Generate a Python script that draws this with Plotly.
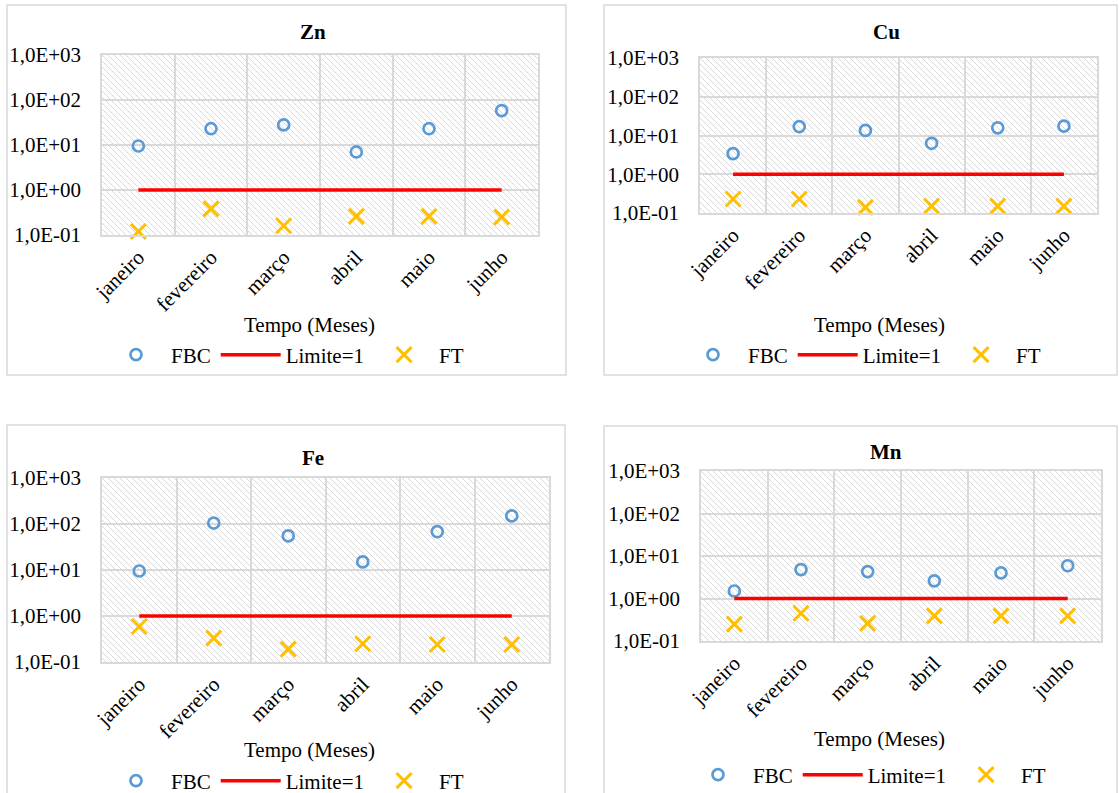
import base64
import plotly.graph_objects as go

W, H = 1119, 793

MONTHS = ["janeiro", "fevereiro", "março", "abril", "maio", "junho"]
LIMITE = [1, 1, 1, 1, 1, 1]

ZN_FBC = [9.5, 23, 28, 7.0, 23, 58]
ZN_FT = [0.12, 0.38, 0.16, 0.26, 0.26, 0.25]

CU_FBC = [3.4, 17, 13.5, 6.3, 15.8, 17.4]
CU_FT = [0.23, 0.23, 0.14, 0.15, 0.15, 0.15]

FE_FBC = [9.5, 105, 55, 15, 68, 150]
FE_FT = [0.59, 0.33, 0.19, 0.25, 0.24, 0.24]

MN_FBC = [1.5, 4.8, 4.3, 2.6, 4.0, 5.9]
MN_FT = [0.25, 0.45, 0.26, 0.39, 0.39, 0.39]

Y_TICKS = [0.1, 1, 10, 100, 1000]
Y_TICKTEXT = ["1,0E-01", "1,0E+00", "1,0E+01", "1,0E+02", "1,0E+03"]

FONT = "Liberation Serif, Times New Roman, serif"
FS = 21
GRID = "#d9d9d9"
BLUE = "#5b9bd5"
RED = "#ff0000"
GOLD = "#ffc000"
ITEMW = 60

# layout of each panel in pixels: plot area (x0, x1, y0, y1), outer box,
# title centre, x-axis title centre, legend (left of first label, centre y)
PANELS = [
    dict(name="Zn", fbc=ZN_FBC, ft=ZN_FT, area=(102, 538, 55, 235),
         box=(7, 566, 5, 375), title=(313, 32), xtitle=(309, 325), legend=(171, 355)),
    dict(name="Cu", fbc=CU_FBC, ft=CU_FT, area=(700, 1097, 58, 213),
         box=(604, 1117, 5, 375), title=(886, 32), xtitle=(879, 325), legend=(748, 355)),
    dict(name="Fe", fbc=FE_FBC, ft=FE_FT, area=(102, 549, 478, 662),
         box=(7, 565, 425, 800), title=(313, 458), xtitle=(309, 750), legend=(171, 781)),
    dict(name="Mn", fbc=MN_FBC, ft=MN_FT, area=(701, 1101, 471, 641),
         box=(604, 1117, 426, 800), title=(886, 452), xtitle=(879, 739), legend=(753, 775)),
]


def px_x(v):
    return v / W


def px_y(v):
    return 1 - v / H


def hatch_uri(w, h):
    svg = (
        f'<svg xmlns="http://www.w3.org/2000/svg" width="{w}" height="{h}">'
        '<defs><pattern id="p" width="6" height="6" patternUnits="userSpaceOnUse">'
        '<path d="M-1,-1 L7,7 M-4,2 L2,8 M2,-4 L8,2" stroke="#d9d9d9" stroke-width="1.0"/>'
        '</pattern></defs><rect width="100%" height="100%" fill="url(#p)"/></svg>'
    )
    return "data:image/svg+xml;base64," + base64.b64encode(svg.encode()).decode()


fig = go.Figure()
layout = dict(
    template="none",
    width=W, height=H,
    margin=dict(l=0, r=0, t=0, b=0, autoexpand=False),
    paper_bgcolor="white",
    plot_bgcolor="rgba(0,0,0,0)",
    font=dict(family=FONT, size=FS, color="black"),
    annotations=[], shapes=[], images=[],
)

for i, p in enumerate(PANELS):
    k = "" if i == 0 else str(i + 1)
    xa, ya = "x" + k, "y" + k
    leg = "legend" + k
    x0, x1, y0, y1 = p["area"]

    fig.add_trace(go.Scatter(
        x=MONTHS, y=p["fbc"], mode="markers", name="FBC",
        marker=dict(symbol="circle-open", size=11, color=BLUE, line=dict(width=2.7, color=BLUE)),
        xaxis=xa, yaxis=ya, legend=leg, cliponaxis=False,
    ))
    fig.add_trace(go.Scatter(
        x=MONTHS, y=LIMITE, mode="lines", name="Limite=1",
        line=dict(color=RED, width=3.5),
        xaxis=xa, yaxis=ya, legend=leg, cliponaxis=False,
    ))
    fig.add_trace(go.Scatter(
        x=MONTHS, y=p["ft"], mode="markers", name="FT",
        marker=dict(symbol="x-thin-open", size=15, color=GOLD, line=dict(width=3, color=GOLD)),
        xaxis=xa, yaxis=ya, legend=leg, cliponaxis=False,
    ))

    layout["xaxis" + k] = dict(
        domain=[px_x(x0), px_x(x1)], anchor=ya, automargin=False,
        type="category", categoryorder="array", categoryarray=MONTHS,
        range=[-0.5, 5.5], tickson="boundaries", ticks="",
        tickangle=-45, tickfont=dict(size=FS),
        showgrid=True, gridcolor=GRID, gridwidth=1.5, zeroline=False,
        showline=True, mirror=True, linecolor=GRID, linewidth=1.5,
        fixedrange=True,
    )
    layout["yaxis" + k] = dict(
        domain=[px_y(y1), px_y(y0)], anchor=xa, automargin=False,
        type="log", range=[-1, 3],
        tickvals=Y_TICKS, ticktext=Y_TICKTEXT, ticks="",
        ticklabelstandoff=15, tickfont=dict(size=FS),
        showgrid=True, gridcolor=GRID, gridwidth=1.5, zeroline=False,
        showline=True, mirror=True, linecolor=GRID, linewidth=1.5,
        fixedrange=True,
    )
    layout[leg] = dict(
        orientation="h", x=px_x(p["legend"][0] - ITEMW - 10), y=px_y(p["legend"][1]),
        xanchor="left", yanchor="middle", bgcolor="rgba(0,0,0,0)", borderwidth=0,
        font=dict(size=FS), itemwidth=ITEMW,
    )

    # hatched plot-area background
    layout["images"].append(dict(
        source=hatch_uri(x1 - x0, y1 - y0), xref="paper", yref="paper",
        x=px_x(x0), y=px_y(y0), sizex=(x1 - x0) / W, sizey=(y1 - y0) / H,
        xanchor="left", yanchor="top", sizing="stretch", layer="below",
    ))

    bx0, bx1, by0, by1 = p["box"]
    layout["shapes"].append(dict(
        type="rect", xref="paper", yref="paper",
        x0=px_x(bx0), x1=px_x(bx1), y0=px_y(by1), y1=px_y(by0),
        line=dict(color=GRID, width=1.5), fillcolor="rgba(0,0,0,0)", layer="below",
    ))

    layout["annotations"].append(dict(
        text=f"<b>{p['name']}</b>", xref="paper", yref="paper",
        x=px_x(p["title"][0]), y=px_y(p["title"][1]),
        xanchor="center", yanchor="middle", showarrow=False, font=dict(size=FS),
    ))
    layout["annotations"].append(dict(
        text="Tempo (Meses)", xref="paper", yref="paper",
        x=px_x(p["xtitle"][0]), y=px_y(p["xtitle"][1]),
        xanchor="center", yanchor="middle", showarrow=False, font=dict(size=FS),
    ))

fig.update_layout(**layout)
fig.write_html(
    "out.html",
    post_script="document.body.style.margin='0';document.body.style.overflow='hidden';",
)
